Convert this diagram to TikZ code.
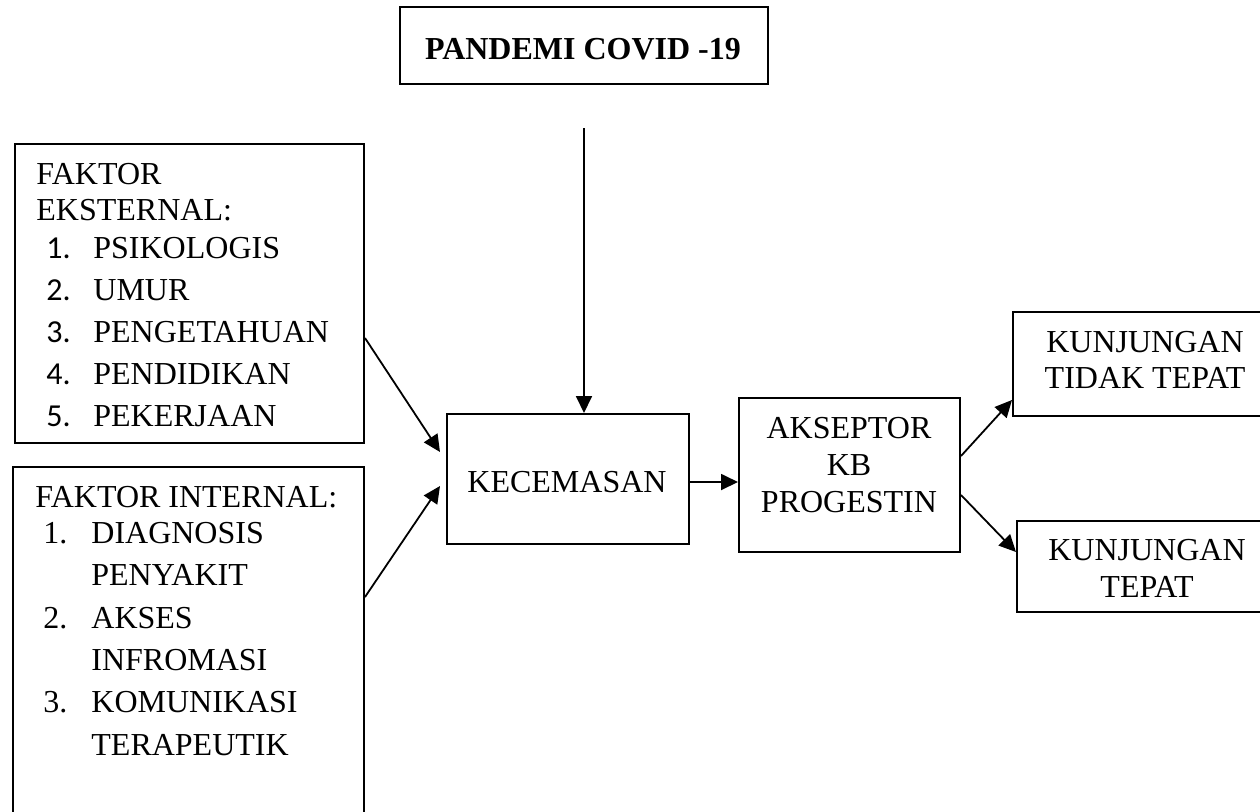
\documentclass[tikz,border=0pt]{standalone}
\usepackage{fontspec}
\setmainfont{Liberation Serif}
\newfontfamily\angka{Carlito}
\usetikzlibrary{arrows.meta,fit}
\newcommand\huruf{\fontsize{16}{18}\selectfont}

\begin{document}
\begin{tikzpicture}[x=0.5pt,y=-0.5pt,font=\huruf,
    kotak/.style={draw,line width=1pt,inner sep=0pt},
    teks/.style={anchor=base,inner sep=0pt},
    kiri/.style={anchor=base west,inner sep=0pt},
    panah/.style={line width=0.9pt,-{Triangle[length=8.5pt,width=8pt]}}]
        \useasboundingbox (0,0) rectangle (1260,811);
        \clip (0,0) rectangle (1260,811);
        % kotak
        \node[kotak,fit={(400,7) (768,84)}] (covid) {};
        \node[kotak,fit={(15,144) (364,443)}] (eks) {};
        \node[kotak,fit={(13,467) (364,840)}] (int) {};
        \node[kotak,fit={(447,414) (689,544)}] (kec) {};
        \node[kotak,fit={(739,398) (960,552)}] (aks) {};
        \node[kotak,fit={(1013,312) (1280,416)}] (tt) {};
        \node[kotak,fit={(1017,521) (1280,612)}] (tp) {};
        % teks kotak
        \node[teks,font=\huruf\bfseries] (covidT) at (583,59) {PANDEMI COVID -19};
        \node[teks] (kecT) at (567,492) {KECEMASAN};
        \foreach \t/\y [count=\i] in {AKSEPTOR/438,KB/475,PROGESTIN/512}
            \node[teks] (aksT\i) at (849,\y) {\t};
        \foreach \t/\y [count=\i] in {KUNJUNGAN/352,TIDAK TEPAT/388}
            \node[teks] (ttT\i) at (1145,\y) {\t};
        \foreach \t/\y [count=\i] in {KUNJUNGAN/560,TEPAT/597}
            \node[teks] (tpT\i) at (1147,\y) {\t};
        % faktor eksternal
        \node[kiri] (eksJ1) at (36,184) {FAKTOR};
        \node[kiri] (eksJ2) at (36,220) {EKSTERNAL:};
        \foreach \n/\t/\y in {1/PSIKOLOGIS/258,2/UMUR/300,3/PENGETAHUAN/342,4/PENDIDIKAN/384,5/PEKERJAAN/426}{
            \node[kiri,font=\huruf\angka] (eksN\n) at (46,\y) {\n.};
            \node[kiri] (eksT\n) at (93,\y) {\t};
        }
        % faktor internal
        \node[kiri] (intJ) at (35,507) {FAKTOR INTERNAL:};
        \foreach \n/\y in {1/543,2/628,3/712}
            \node[kiri] (intN\n) at (43,\y) {\n.};
        \foreach \t/\y [count=\i] in {DIAGNOSIS/543,PENYAKIT/585,AKSES/628,INFROMASI/670,KOMUNIKASI/712,TERAPEUTIK/755}
            \node[kiri] (intT\i) at (91,\y) {\t};
        % panah
        \draw[panah] ([yshift=-21.5pt]covid.south) -- (kec.north -| covid.south);
        \draw[panah] ([yshift=-22.25pt]eks.east) -- ([xshift=-3pt,yshift=13.5pt]kec.west);
        \draw[panah] ([yshift=28.25pt]int.east) -- ([xshift=-3pt,yshift=-3.5pt]kec.west);
        \draw[panah] ([yshift=-1.5pt]kec.east) -- ([yshift=-1.5pt]kec.east -| aks.west);
        \draw[panah] ([yshift=9.5pt]aks.east) -- ([yshift=-18pt]tt.west);
        \draw[panah] ([yshift=-10pt]aks.east) -- ([yshift=7.25pt]tp.west);
\end{tikzpicture}
\end{document}
